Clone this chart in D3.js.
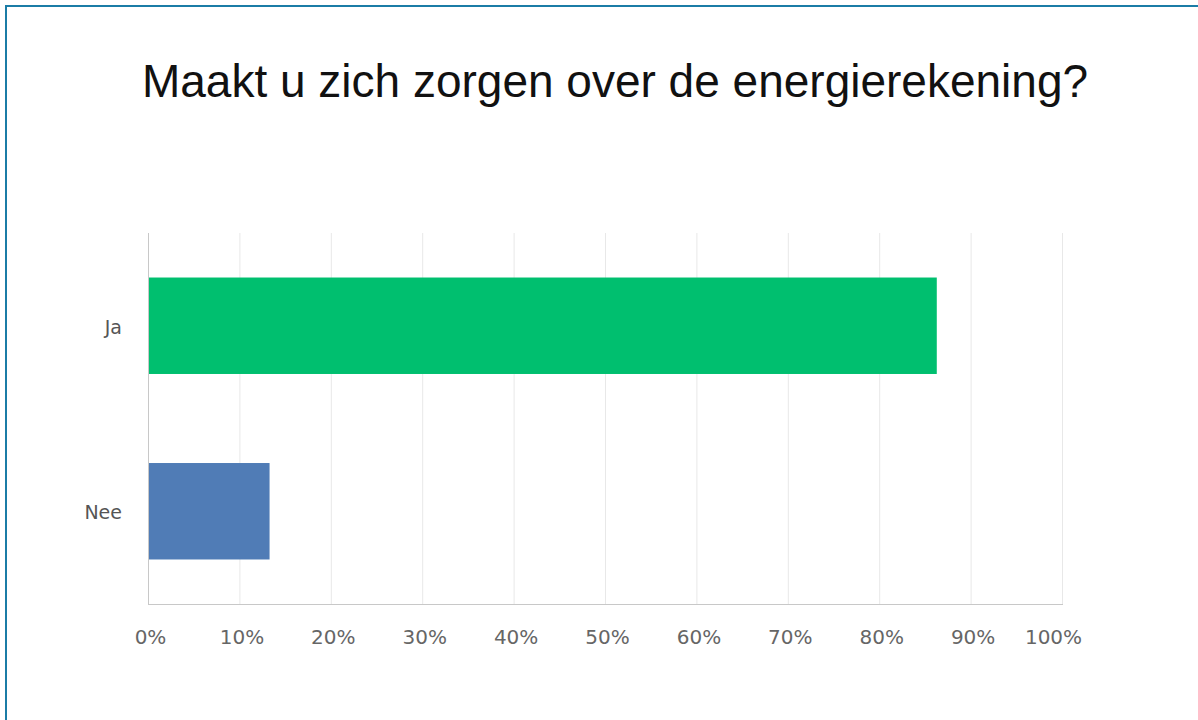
<!DOCTYPE html>
<html>
<head>
<meta charset="utf-8">
<script src="https://cdn.jsdelivr.net/npm/d3@7"></script>
<style>
  body { margin: 0; background: #fff; }
  svg { display: block; }
</style>
</head>
<body>
<svg id="chart"></svg>
<script>
var title = "Maakt u zich zorgen over de energierekening?";
var categories = ["Ja", "Nee"];
var values = [86.3, 13.3];
var barColors = ["#00bf6f", "#507cb6"];
var tickValues = [0, 10, 20, 30, 40, 50, 60, 70, 80, 90, 100];

var width = 1198, height = 720;
var margin = {top: 233, right: 136, bottom: 116, left: 148};

var svg = d3.select("#chart")
  .attr("width", width)
  .attr("height", height);

// frame (top + left only, like the screenshot)
svg.append("line")
  .attr("x1", 6).attr("x2", width).attr("y1", 6).attr("y2", 6)
  .style("stroke", "#1b7ca6").style("stroke-width", 2);
svg.append("line")
  .attr("x1", 6).attr("x2", 6).attr("y1", 5).attr("y2", height)
  .style("stroke", "#1b7ca6").style("stroke-width", 2);

svg.append("text")
  .attr("x", 615)
  .attr("y", 97)
  .attr("text-anchor", "middle")
  .style("font-family", "'Liberation Sans', Arial, sans-serif")
  .style("font-size", "46px")
  .style("fill", "#111")
  .text(title);

var w = width - margin.left - margin.right,
    h = height - margin.top - margin.bottom;

var g = svg.append("g")
  .attr("transform", "translate(" + margin.left + "," + margin.top + ")");

var x = d3.scaleLinear().domain([0, 100]).range([0, w]);
var y = d3.scaleBand().domain(categories).range([0, h])
  .paddingInner(0.48).paddingOuter(0.24);

// grid
g.selectAll("line.grid")
  .data(tickValues.slice(1))
  .enter().append("line")
    .attr("class", "grid")
    .attr("x1", function(d) { return x(d) + 0.5; })
    .attr("x2", function(d) { return x(d) + 0.5; })
    .attr("y1", 0)
    .attr("y2", h)
    .style("stroke", "#e8e8e8");

// bars
g.selectAll("rect.bar")
  .data(values)
  .enter().append("rect")
    .attr("class", "bar")
    .attr("x", 0)
    .attr("y", function(d, i) { return y(categories[i]); })
    .attr("width", function(d) { return x(d); })
    .attr("height", y.bandwidth())
    .style("fill", function(d, i) { return barColors[i]; });

// axis lines
g.append("line")
  .attr("x1", 0.5).attr("x2", 0.5).attr("y1", 0).attr("y2", h)
  .style("stroke", "#c8c8c8");
g.append("line")
  .attr("x1", 0).attr("x2", w + 1).attr("y1", h + 0.5).attr("y2", h + 0.5)
  .style("stroke", "#c8c8c8");

// x axis labels
var xAxis = g.append("g")
  .attr("transform", "translate(0," + h + ")")
  .call(d3.axisBottom(x).tickValues(tickValues)
    .tickFormat(function(d) { return d + "%"; })
    .tickSize(0).tickPadding(26));
xAxis.select(".domain").remove();
xAxis.selectAll("text")
  .attr("dx", function(d) { return d === 100 ? -9 : 2; })
  .style("font-family", "'DejaVu Sans', sans-serif")
  .style("font-size", "20px")
  .style("fill", "#666");

// y axis labels
var yAxis = g.append("g")
  .call(d3.axisLeft(y).tickSize(0).tickPadding(26));
yAxis.select(".domain").remove();
yAxis.selectAll("text")
  .attr("dy", "0.42em")
  .style("font-family", "'DejaVu Sans', sans-serif")
  .style("font-size", "19px")
  .style("fill", "#555");
</script>
</body>
</html>
